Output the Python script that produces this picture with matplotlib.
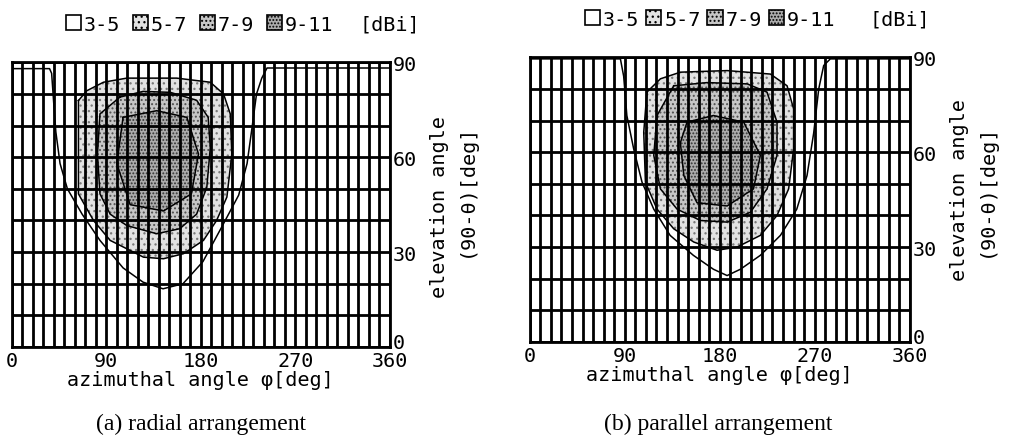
"""Gain contour maps (azimuth vs elevation) for radial and parallel arrangements."""

import matplotlib
matplotlib.use("Agg")
import matplotlib.pyplot as plt
from matplotlib.patches import Patch
from matplotlib.transforms import ScaledTranslation

# contour outlines: (azimuth phi [deg], elevation [deg])
# (a) radial arrangement
A_3DBI_PHI = [0, 36, 38, 40, 42, 46, 53, 67, 84, 106, 125, 144, 163, 182, 200, 216, 224, 229, 233, 238, 243, 360]
A_3DBI_EL = [88, 88, 86.5, 77, 68, 58, 50, 42, 33.7, 25, 20.5, 18.4, 20, 27, 38, 48, 58, 70, 80, 85, 88.2, 88.2]
A_5DBI_PHI = [63.5, 63.5, 77.8, 93.7, 125.4, 144.4, 163.5, 182.5, 195, 204.8, 209.5, 208, 201.6, 189, 157, 109.5, 87.3, 71.4]
A_5DBI_EL = [77.9, 48.4, 40, 33.7, 28.4, 27.9, 29.5, 33.7, 40, 47.4, 61, 73.7, 80, 83.7, 85, 85, 83.7, 81]
A_7DBI_PHI = [103, 84, 81.6, 84, 93.7, 109.5, 138, 160, 176, 185.7, 189, 187, 176, 151, 125]
A_7DBI_EL = [79, 73.7, 61, 48.4, 42, 38.4, 35.8, 37.4, 42, 50.5, 63, 72.6, 78, 80.5, 80.8]
A_9DBI_PHI = [106, 138, 166.7, 177.8, 171, 144.4, 112.7, 100]
A_9DBI_EL = [72.6, 74.7, 72.6, 61, 48.4, 43, 45, 58]

# (b) parallel arrangement
B_3DBI_PHI = [0, 85.9, 89, 92, 98.5, 106.4, 117.5, 133, 155, 174, 187, 199.6, 218.5, 237.5, 253, 262.7, 269, 273.8, 278.5, 284.8, 360]
B_3DBI_EL = [89.5, 89.5, 84, 71.6, 61, 50.5, 42, 33.7, 27.4, 23, 21, 23, 27.4, 33.7, 42, 52.6, 66, 80, 87.4, 89.5, 89.5]
B_5DBI_PHI = [111, 108, 109.6, 120.6, 136.4, 155.4, 177.5, 196.4, 218.5, 234.3, 245.3, 250, 250, 243.8, 228, 187, 142.7, 123.8]
B_5DBI_EL = [79, 66.3, 50.5, 42, 35.8, 31.6, 29, 30, 33.7, 40, 48.4, 61, 73.7, 81, 84.7, 85.8, 85.3, 83.2]
B_7DBI_PHI = [136.4, 120.6, 117.5, 123.8, 139.6, 161.7, 187, 209, 224.8, 234.3, 234.3, 224.8, 206, 168]
B_7DBI_EL = [81, 71.6, 59, 48.4, 42, 38.4, 37.9, 41, 48.4, 59, 69.5, 79, 81.6, 82]
B_9DBI_PHI = [149, 174, 202.7, 218.5, 212, 187, 158.5, 146, 142.7]
B_9DBI_EL = [69.5, 71.6, 69.5, 59, 48.4, 43, 44, 52.6, 63]

LEVEL_LABELS = ["3-5", "5-7", "7-9", "9-11"]
FACES = ["white", "#e2e2e2", "#c6c6c6", "#acacac"]
HATCH_COLORS = ["black", "#7a7a7a", "#505050", "#333333"]
HATCHES = [None, "...", "....", "....."]

X_TICKS = [0, 90, 180, 270, 360]
Y_TICKS = [0, 30, 60, 90]

MONO = ["DejaVu Sans Mono"]
SERIF = ["Liberation Serif", "DejaVu Serif"]
FS = 14.5

PANELS = [
    dict(rect=[0.0116, 0.2073, 0.3745, 0.6485],
         contours=[(A_3DBI_PHI, A_3DBI_EL), (A_5DBI_PHI, A_5DBI_EL),
                   (A_7DBI_PHI, A_7DBI_EL), (A_9DBI_PHI, A_9DBI_EL)],
         caption="(a) radial arrangement", cap_xy=(0.199, 0.034),
         leg_xy=(0.065, 0.943), colsp=0.62, unit_x=0.356, ylab_y=(0.495, 0.554)),
    dict(rect=[0.5245, 0.2187, 0.3762, 0.6485],
         contours=[(B_3DBI_PHI, B_3DBI_EL), (B_5DBI_PHI, B_5DBI_EL),
                   (B_7DBI_PHI, B_7DBI_EL), (B_9DBI_PHI, B_9DBI_EL)],
         caption="(b) parallel arrangement", cap_xy=(0.711, 0.034),
         leg_xy=(0.579, 0.954), colsp=0.34, unit_x=0.861, ylab_y=(0.537, 0.537)),
]


def draw_panel(fig, p):
    ax = fig.add_axes(p["rect"])
    # shaded bands: 5 dBi region, then 7 and 9 dBi drawn on top
    for level, (phi, el) in enumerate(p["contours"]):
        if level > 0:
            ax.fill(phi, el, facecolor=FACES[level], edgecolor=HATCH_COLORS[level],
                    hatch=HATCHES[level], lw=0, zorder=1)
        closed = level > 0
        xs = phi + [phi[0]] if closed else phi
        ys = el + [el[0]] if closed else el
        ax.plot(xs, ys, color="black", lw=1.1, zorder=2)

    ax.set_xlim(0, 360)
    ax.set_ylim(0, 90)
    ax.set_xticks(X_TICKS)
    ax.set_yticks(Y_TICKS)
    ax.set_xticks(range(0, 361, 10), minor=True)
    ax.set_yticks(range(0, 91, 10), minor=True)
    ax.grid(which="both", color="black", lw=2.0, zorder=3)
    ax.set_axisbelow(False)
    ax.yaxis.tick_right()
    ax.tick_params(which="both", length=0, labelsize=FS, pad=2)
    ax.tick_params(axis="x", pad=3)
    for lab in ax.get_xticklabels() + ax.get_yticklabels():
        lab.set_family(MONO)
    for s in ax.spines.values():
        s.set_linewidth(2.0)

    ax.set_xlabel("azimuthal angle \u03c6[deg]", fontsize=FS, family=MONO, labelpad=0)
    ax.annotate("elevation angle", xy=(1, p["ylab_y"][0]), xycoords="axes fraction",
                xytext=(36, 0), textcoords="offset points", rotation=90,
                ha="center", va="center", fontsize=FS, family=MONO)
    ax.annotate("(90-\u03b8)[deg]", xy=(1, p["ylab_y"][1]), xycoords="axes fraction",
                xytext=(55, 0), textcoords="offset points", rotation=90,
                ha="center", va="center", fontsize=FS, family=MONO)

    handles = [Patch(facecolor=FACES[i], edgecolor="black", hatch=HATCHES[i], lw=1.2)
               for i in range(len(LEVEL_LABELS))]
    fig.legend(handles, LEVEL_LABELS, ncol=4, loc="center left",
               bbox_to_anchor=p["leg_xy"], frameon=False, borderpad=0,
               borderaxespad=0, handlelength=0.75, handleheight=0.75,
               handletextpad=0.15, columnspacing=p["colsp"],
               prop=dict(family=MONO, size=FS))
    fig.text(p["unit_x"], p["leg_xy"][1], "[dBi]", ha="left", va="center",
             fontsize=FS, family=MONO)
    fig.text(*p["cap_xy"], p["caption"], ha="center", va="center",
             fontsize=17, family=SERIF)
    return ax


def main():
    plt.rcParams["hatch.linewidth"] = 0.9
    fig = plt.figure(figsize=(10.1, 4.39), dpi=100)
    axes = [draw_panel(fig, p) for p in PANELS]
    fig.canvas.draw()
    # lift the "0" elevation label a little so it clears the "360" below it
    for ax in axes:
        lab = ax.get_yticklabels()[0]
        lab.set_transform(lab.get_transform() + ScaledTranslation(0, 5 / 72, fig.dpi_scale_trans))
    fig.savefig("out.png", dpi=100)


if __name__ == "__main__":
    main()
